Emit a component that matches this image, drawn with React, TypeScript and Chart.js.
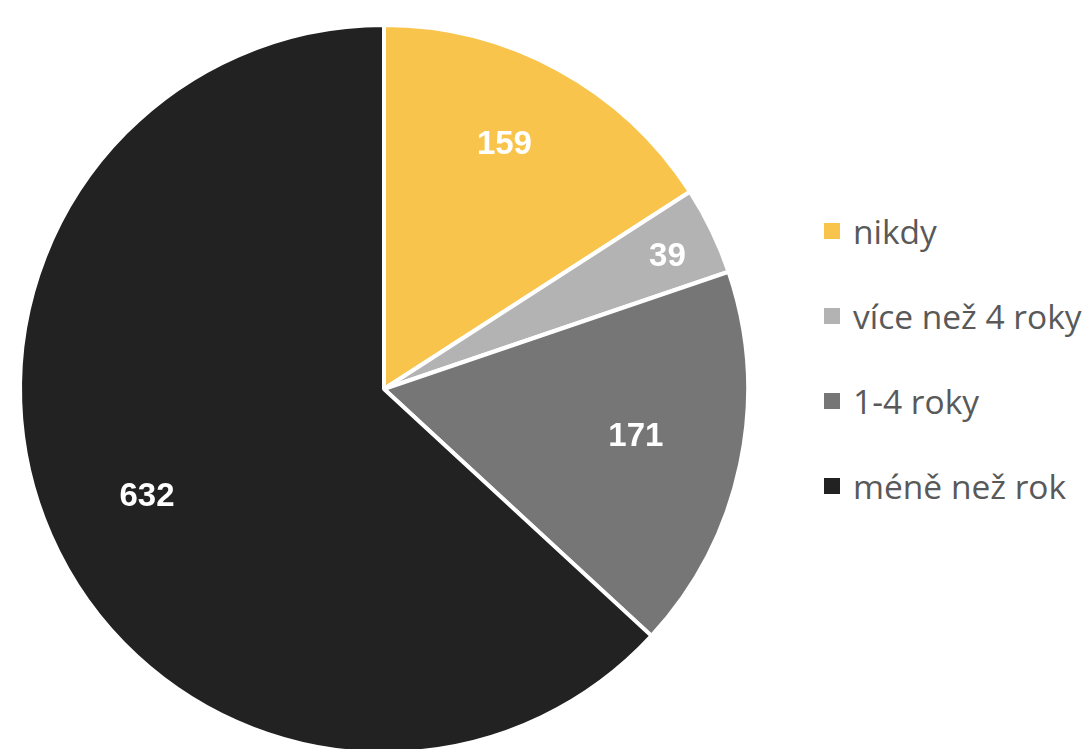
import React, { useEffect, useRef } from "react";
import { Chart, registerables } from "chart.js";

Chart.register(...registerables);

const categories = ["nikdy", "více než 4 roky", "1-4 roky", "méně než rok"];
const values = [159, 39, 171, 632];
const colors = ["#F8C44B", "#B3B3B3", "#767676", "#222222"];
// label placement style: radial fraction of the radius and angular shift (degrees) from slice middle
const labelRadiusFraction = [0.755, 0.862, 0.703, 0.712];
const labelAngleShift = [-2.6, 0.4, -1.7, -0.2];

const LEGEND_FONT = "'Open Sans', sans-serif";
const LABEL_FONT_SIZE = 33;

const labelPlugin = {
  id: "valueLabels",
  afterDatasetsDraw(chart: any) {
    const ctx = chart.ctx;
    const meta = chart.getDatasetMeta(0);
    ctx.save();
    ctx.fillStyle = "#FFFFFF";
    ctx.font = `bold ${LABEL_FONT_SIZE}px 'Liberation Sans', Arial, sans-serif`;
    ctx.textAlign = "center";
    ctx.textBaseline = "alphabetic";
    meta.data.forEach((arc: any, i: number) => {
      const p = arc.getProps(["x", "y", "startAngle", "endAngle", "outerRadius"], true);
      const mid = (p.startAngle + p.endAngle) / 2 + (labelAngleShift[i] * Math.PI) / 180;
      const r = p.outerRadius * labelRadiusFraction[i];
      const x = p.x + Math.cos(mid) * r;
      const y = p.y + Math.sin(mid) * r;
      ctx.fillText(String(values[i]), x, y + LABEL_FONT_SIZE * 0.358);
    });
    ctx.restore();
  },
};

function PieChart() {
  const ref = useRef<HTMLCanvasElement | null>(null);
  useEffect(() => {
    if (!ref.current) return;
    const chart = new Chart(ref.current, {
      type: "pie",
      data: {
        labels: categories,
        datasets: [
          {
            data: values,
            backgroundColor: colors,
            borderColor: "#FFFFFF",
            borderWidth: 4,
          },
        ],
      },
      options: {
        animation: false,
        responsive: false,
        maintainAspectRatio: false,
        layout: { padding: 4 },
        plugins: {
          legend: { display: false },
          tooltip: { enabled: false },
        },
      },
      plugins: [labelPlugin],
    });
    return () => chart.destroy();
  }, []);
  return (
    <canvas
      ref={ref}
      width={740}
      height={740}
      style={{ position: "absolute", left: 14, top: 19, width: 740, height: 740 }}
    />
  );
}

const legendCenters = [231, 316, 401, 486];

export default function App() {
  return (
    <div
      style={{
        position: "fixed",
        left: 0,
        top: 0,
        width: 1084,
        height: 749,
        overflow: "hidden",
        background: "#FFFFFF",
      }}
    >
      <PieChart />
      {categories.map((c, i) => (
        <div
          key={c}
          style={{
            position: "absolute",
            left: 824,
            top: legendCenters[i] - 20,
            height: 40,
            display: "flex",
            alignItems: "center",
            whiteSpace: "nowrap",
          }}
        >
          <span
            style={{
              display: "inline-block",
              width: 16,
              height: 16,
              background: colors[i],
              marginRight: 13,
            }}
          />
          <span
            style={{
              fontFamily: LEGEND_FONT,
              fontSize: 33.5,
              lineHeight: "40px",
              color: "#595959",
              position: "relative",
              top: 0,
            }}
          >
            {c}
          </span>
        </div>
      ))}
    </div>
  );
}
